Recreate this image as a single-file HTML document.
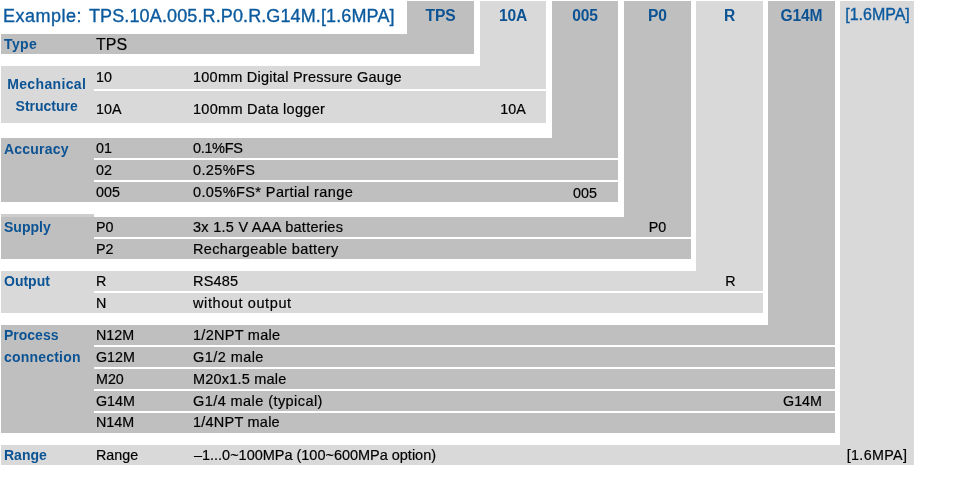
<!DOCTYPE html>
<html><head><meta charset="utf-8"><title>TPS ordering code</title>
<style>
html,body{margin:0;padding:0;background:#fff;}
body{width:980px;height:479px;overflow:hidden;position:relative;font-family:'Liberation Sans', Arial, sans-serif;}
.r{position:absolute;}
.t{position:absolute;white-space:nowrap;will-change:transform;}
</style></head><body>
<div class="r" style="left:407px;top:1px;width:67px;height:53px;background:#bfbfbf"></div>
<div class="r" style="left:480px;top:1px;width:66px;height:122px;background:#d9d9d9"></div>
<div class="r" style="left:552px;top:1px;width:66px;height:201px;background:#bfbfbf"></div>
<div class="r" style="left:624px;top:1px;width:67px;height:258px;background:#bfbfbf"></div>
<div class="r" style="left:696px;top:1px;width:67px;height:312px;background:#d9d9d9"></div>
<div class="r" style="left:768px;top:1px;width:67px;height:432px;background:#bfbfbf"></div>
<div class="r" style="left:840px;top:1px;width:74px;height:464px;background:#d9d9d9"></div>
<div class="r" style="left:1px;top:34px;width:473px;height:20px;background:#bfbfbf"></div>
<div class="r" style="left:1px;top:66px;width:545px;height:57px;background:#d9d9d9"></div>
<div class="r" style="left:1px;top:138px;width:617px;height:64px;background:#bfbfbf"></div>
<div class="r" style="left:1px;top:217px;width:690px;height:42px;background:#bfbfbf"></div>
<div class="r" style="left:1px;top:271px;width:762px;height:42px;background:#d9d9d9"></div>
<div class="r" style="left:1px;top:325px;width:834px;height:108px;background:#bfbfbf"></div>
<div class="r" style="left:1px;top:445px;width:913px;height:20px;background:#d9d9d9"></div>
<div class="r" style="left:1px;top:214px;width:93px;height:3px;background:#cdcdcd"></div>
<div class="r" style="left:94px;top:89px;width:452px;height:2px;background:#fff"></div>
<div class="r" style="left:94px;top:158px;width:524px;height:2px;background:#fff"></div>
<div class="r" style="left:94px;top:180px;width:524px;height:2px;background:#fff"></div>
<div class="r" style="left:94px;top:237px;width:597px;height:2px;background:#fff"></div>
<div class="r" style="left:94px;top:291px;width:669px;height:2px;background:#fff"></div>
<div class="r" style="left:94px;top:345px;width:741px;height:2px;background:#fff"></div>
<div class="r" style="left:94px;top:367px;width:741px;height:2px;background:#fff"></div>
<div class="r" style="left:94px;top:389px;width:741px;height:2px;background:#fff"></div>
<div class="r" style="left:94px;top:411px;width:741px;height:2px;background:#fff"></div>
<div class="t" style="left:3.4px;top:6.66px;font-size:18px;line-height:18px;color:#0b5a9e;letter-spacing:0.48px;-webkit-text-stroke:0.35px #0b5a9e">Example:</div>
<div class="t" style="left:89.1px;top:6.66px;font-size:18px;line-height:18px;color:#0b5a9e;letter-spacing:0.12px;-webkit-text-stroke:0.35px #0b5a9e">TPS.10A.005.R.P0.R.G14M.[1.6MPA]</div>
<div class="t" style="left:407.2px;top:7.59px;font-size:15.6px;line-height:15.6px;color:#0c5394;font-weight:bold;letter-spacing:-0.15px;width:67px;text-align:center">TPS</div>
<div class="t" style="left:480.2px;top:7.59px;font-size:15.6px;line-height:15.6px;color:#0c5394;font-weight:bold;letter-spacing:-0.15px;width:66px;text-align:center">10A</div>
<div class="t" style="left:552.2px;top:7.59px;font-size:15.6px;line-height:15.6px;color:#0c5394;font-weight:bold;letter-spacing:-0.15px;width:66px;text-align:center">005</div>
<div class="t" style="left:624.2px;top:7.59px;font-size:15.6px;line-height:15.6px;color:#0c5394;font-weight:bold;letter-spacing:-0.15px;width:67px;text-align:center">P0</div>
<div class="t" style="left:696.2px;top:7.59px;font-size:15.6px;line-height:15.6px;color:#0c5394;font-weight:bold;letter-spacing:-0.15px;width:67px;text-align:center">R</div>
<div class="t" style="left:768.2px;top:7.59px;font-size:15.6px;line-height:15.6px;color:#0c5394;font-weight:bold;letter-spacing:-0.15px;width:67px;text-align:center">G14M</div>
<div class="t" style="left:840.5px;top:6.66px;font-size:16px;line-height:16px;color:#0b5a9e;width:73px;text-align:center;-webkit-text-stroke:0.35px #0b5a9e">[1.6MPA]</div>
<div class="t" style="left:4px;top:36.95px;font-size:14px;line-height:14px;color:#0c5394;font-weight:bold;letter-spacing:0.4px">Type</div>
<div class="t" style="left:-0.3px;top:77.05px;font-size:14px;line-height:14px;color:#0c5394;font-weight:bold;letter-spacing:0.35px;width:93.4px;text-align:center">Mechanical</div>
<div class="t" style="left:-0.3px;top:98.55px;font-size:14px;line-height:14px;color:#0c5394;font-weight:bold;width:93.4px;text-align:center">Structure</div>
<div class="t" style="left:3.6px;top:141.75px;font-size:14px;line-height:14px;color:#0c5394;font-weight:bold;letter-spacing:0.22px">Accuracy</div>
<div class="t" style="left:3.6px;top:220.35px;font-size:14px;line-height:14px;color:#0c5394;font-weight:bold">Supply</div>
<div class="t" style="left:3.6px;top:274.35px;font-size:14px;line-height:14px;color:#0c5394;font-weight:bold">Output</div>
<div class="t" style="left:3.6px;top:328.05px;font-size:14px;line-height:14px;color:#0c5394;font-weight:bold">Process</div>
<div class="t" style="left:3.6px;top:350.15px;font-size:14px;line-height:14px;color:#0c5394;font-weight:bold;letter-spacing:0.2px">connection</div>
<div class="t" style="left:3.6px;top:447.65px;font-size:14px;line-height:14px;color:#0c5394;font-weight:bold">Range</div>
<div class="t" style="left:96.1px;top:70.4px;font-size:14.3px;line-height:14.3px;color:#000;-webkit-text-stroke:0.2px #000">10</div>
<div class="t" style="left:193.1px;top:70.23px;font-size:14.5px;line-height:14.5px;color:#000;letter-spacing:0.23px;-webkit-text-stroke:0.2px #000">100mm Digital Pressure Gauge</div>
<div class="t" style="left:96.1px;top:101.8px;font-size:14.3px;line-height:14.3px;color:#000;-webkit-text-stroke:0.2px #000">10A</div>
<div class="t" style="left:193.1px;top:101.63px;font-size:14.5px;line-height:14.5px;color:#000;letter-spacing:0.28px;-webkit-text-stroke:0.2px #000">100mm Data logger</div>
<div class="t" style="left:96.1px;top:141.2px;font-size:14.3px;line-height:14.3px;color:#000;-webkit-text-stroke:0.2px #000">01</div>
<div class="t" style="left:193.1px;top:141.03px;font-size:14.5px;line-height:14.5px;color:#000;letter-spacing:-0.35px;-webkit-text-stroke:0.2px #000">0.1%FS</div>
<div class="t" style="left:96.1px;top:162.9px;font-size:14.3px;line-height:14.3px;color:#000;-webkit-text-stroke:0.2px #000">02</div>
<div class="t" style="left:193.1px;top:162.73px;font-size:14.5px;line-height:14.5px;color:#000;letter-spacing:0.37px;-webkit-text-stroke:0.2px #000">0.25%FS</div>
<div class="t" style="left:96.1px;top:184.7px;font-size:14.3px;line-height:14.3px;color:#000;-webkit-text-stroke:0.2px #000">005</div>
<div class="t" style="left:193.1px;top:184.53px;font-size:14.5px;line-height:14.5px;color:#000;letter-spacing:0.39px;-webkit-text-stroke:0.2px #000">0.05%FS* Partial range</div>
<div class="t" style="left:96.1px;top:219.9px;font-size:14.3px;line-height:14.3px;color:#000;-webkit-text-stroke:0.2px #000">P0</div>
<div class="t" style="left:193.1px;top:219.73px;font-size:14.5px;line-height:14.5px;color:#000;letter-spacing:0.27px;-webkit-text-stroke:0.2px #000">3x 1.5 V AAA batteries</div>
<div class="t" style="left:96.1px;top:241.7px;font-size:14.3px;line-height:14.3px;color:#000;-webkit-text-stroke:0.2px #000">P2</div>
<div class="t" style="left:193.1px;top:241.53px;font-size:14.5px;line-height:14.5px;color:#000;letter-spacing:0.35px;-webkit-text-stroke:0.2px #000">Rechargeable battery</div>
<div class="t" style="left:96.1px;top:274.3px;font-size:14.3px;line-height:14.3px;color:#000;-webkit-text-stroke:0.2px #000">R</div>
<div class="t" style="left:193.1px;top:274.13px;font-size:14.5px;line-height:14.5px;color:#000;letter-spacing:0.2px;-webkit-text-stroke:0.2px #000">RS485</div>
<div class="t" style="left:96.1px;top:296.2px;font-size:14.3px;line-height:14.3px;color:#000;-webkit-text-stroke:0.2px #000">N</div>
<div class="t" style="left:193.1px;top:296.03px;font-size:14.5px;line-height:14.5px;color:#000;letter-spacing:0.6px;-webkit-text-stroke:0.2px #000">without output</div>
<div class="t" style="left:96.1px;top:327.9px;font-size:14.3px;line-height:14.3px;color:#000;-webkit-text-stroke:0.2px #000">N12M</div>
<div class="t" style="left:193.1px;top:327.73px;font-size:14.5px;line-height:14.5px;color:#000;letter-spacing:0.27px;-webkit-text-stroke:0.2px #000">1/2NPT male</div>
<div class="t" style="left:96.1px;top:349.8px;font-size:14.3px;line-height:14.3px;color:#000;-webkit-text-stroke:0.2px #000">G12M</div>
<div class="t" style="left:193.1px;top:349.63px;font-size:14.5px;line-height:14.5px;color:#000;letter-spacing:0.44px;-webkit-text-stroke:0.2px #000">G1/2 male</div>
<div class="t" style="left:96.1px;top:371.7px;font-size:14.3px;line-height:14.3px;color:#000;-webkit-text-stroke:0.2px #000">M20</div>
<div class="t" style="left:193.1px;top:371.53px;font-size:14.5px;line-height:14.5px;color:#000;letter-spacing:0.2px;-webkit-text-stroke:0.2px #000">M20x1.5 male</div>
<div class="t" style="left:96.1px;top:393.7px;font-size:14.3px;line-height:14.3px;color:#000;-webkit-text-stroke:0.2px #000">G14M</div>
<div class="t" style="left:193.1px;top:393.53px;font-size:14.5px;line-height:14.5px;color:#000;letter-spacing:0.43px;-webkit-text-stroke:0.2px #000">G1/4 male (typical)</div>
<div class="t" style="left:96.1px;top:415.4px;font-size:14.3px;line-height:14.3px;color:#000;-webkit-text-stroke:0.2px #000">N14M</div>
<div class="t" style="left:193.1px;top:415.23px;font-size:14.5px;line-height:14.5px;color:#000;letter-spacing:0.23px;-webkit-text-stroke:0.2px #000">1/4NPT male</div>
<div class="t" style="left:96.1px;top:447.9px;font-size:14.3px;line-height:14.3px;color:#000;-webkit-text-stroke:0.2px #000">Range</div>
<div class="t" style="left:194.1px;top:447.73px;font-size:14.5px;line-height:14.5px;color:#000;letter-spacing:-0.02px;-webkit-text-stroke:0.2px #000">–1...0~100MPa (100~600MPa option)</div>
<div class="t" style="left:96.3px;top:36.66px;font-size:16px;line-height:16px;color:#000;-webkit-text-stroke:0.2px #000">TPS</div>
<div class="t" style="left:480px;top:102.1px;font-size:14.3px;line-height:14.3px;color:#000;width:66px;text-align:center;-webkit-text-stroke:0.2px #000">10A</div>
<div class="t" style="left:552px;top:185.6px;font-size:14.3px;line-height:14.3px;color:#000;width:66px;text-align:center;-webkit-text-stroke:0.2px #000">005</div>
<div class="t" style="left:624px;top:219.9px;font-size:14.3px;line-height:14.3px;color:#000;width:67px;text-align:center;-webkit-text-stroke:0.2px #000">P0</div>
<div class="t" style="left:696.8px;top:274.3px;font-size:14.3px;line-height:14.3px;color:#000;width:67px;text-align:center;-webkit-text-stroke:0.2px #000">R</div>
<div class="t" style="left:768.8px;top:394.1px;font-size:14.3px;line-height:14.3px;color:#000;width:67px;text-align:center;-webkit-text-stroke:0.2px #000">G14M</div>
<div class="t" style="left:840.3px;top:448px;font-size:14.3px;line-height:14.3px;color:#000;letter-spacing:0.35px;width:74px;text-align:center;-webkit-text-stroke:0.2px #000">[1.6MPA]</div>
</body></html>
